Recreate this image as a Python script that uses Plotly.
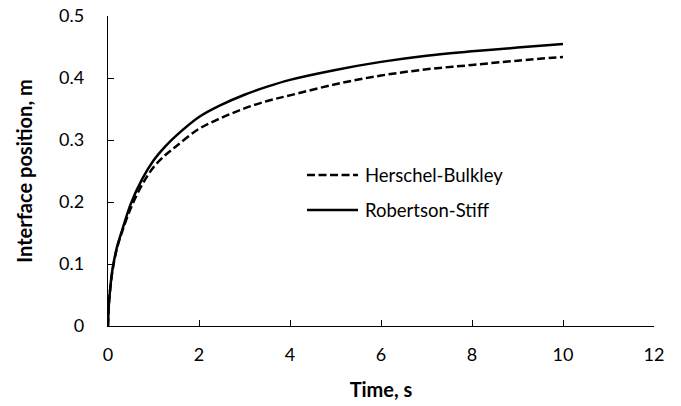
import plotly.graph_objects as go

# Data
time_hb = [0, 0.02, 0.05, 0.1, 0.2, 0.3, 0.5, 0.75, 1.0, 1.25, 1.5, 2.0, 2.5, 3.0, 3.5, 4.0, 5.0, 6.0, 7.0, 8.0, 9.0, 10.0]
pos_hb = [0, 0.035, 0.06, 0.09, 0.126, 0.15, 0.19, 0.228, 0.256, 0.275, 0.29, 0.318, 0.336, 0.351, 0.363, 0.372, 0.39, 0.404, 0.414, 0.421, 0.428, 0.434]

time_rs = [0, 0.02, 0.05, 0.1, 0.2, 0.3, 0.5, 0.75, 1.0, 1.25, 1.5, 2.0, 2.5, 3.0, 3.5, 4.0, 5.0, 6.0, 7.0, 8.0, 9.0, 10.0]
pos_rs = [0, 0.036, 0.062, 0.092, 0.128, 0.152, 0.197, 0.237, 0.267, 0.289, 0.307, 0.337, 0.357, 0.373, 0.386, 0.397, 0.413, 0.426, 0.436, 0.443, 0.449, 0.455]

series_names = ["Herschel-Bulkley", "Robertson-Stiff"]

x_ticks = [0, 2, 4, 6, 8, 10, 12]
y_ticks = [0, 0.1, 0.2, 0.3, 0.4, 0.5]
y_tick_labels = ["0", "0.1", "0.2", "0.3", "0.4", "0.5"]

FONT = "Lato, 'Open Sans', sans-serif"
DASH = "8px,3.5px"

fig = go.Figure()
fig.add_trace(go.Scatter(
    x=time_hb, y=pos_hb, mode="lines", name=series_names[0],
    line=dict(color="black", width=2.5, dash=DASH, shape="spline"),
    showlegend=False,
))
fig.add_trace(go.Scatter(
    x=time_rs, y=pos_rs, mode="lines", name=series_names[1],
    line=dict(color="black", width=2.5, shape="spline"),
    showlegend=False,
))

# Legend drawn by hand (long line samples, as in the reference)
legend_rows = [(0.487, DASH), (0.374, "solid")]
for (ly, dash), name in zip(legend_rows, series_names):
    fig.add_shape(type="line", xref="paper", yref="paper",
                  x0=0.3645, x1=0.4579, y0=ly, y1=ly,
                  line=dict(color="black", width=2.5, dash=dash))
    fig.add_annotation(xref="paper", yref="paper", x=0.467, y=ly,
                       xanchor="left", yanchor="middle", showarrow=False,
                       text=name, font=dict(size=18.5, color="black"))

fig.update_layout(
    width=681, height=406,
    margin=dict(l=108, r=27, t=16, b=80),
    paper_bgcolor="white", plot_bgcolor="white",
    font=dict(family=FONT, size=18, color="black"),
    showlegend=False,
)
fig.update_xaxes(
    range=[0, 12], tickvals=x_ticks, ticktext=[str(v) for v in x_ticks],
    showgrid=False, zeroline=False, showline=True, linecolor="black", linewidth=1.3,
    ticks="inside", ticklen=6, tickwidth=1.3, tickcolor="black",
    ticklabelstandoff=12, automargin=False, ticklabeloverflow="allow",
    title=dict(text="<b>Time, s</b>", font=dict(size=20), standoff=19),
)
fig.update_yaxes(
    range=[0, 0.5], tickvals=y_ticks, ticktext=y_tick_labels,
    showgrid=False, zeroline=False, showline=True, linecolor="black", linewidth=1.3,
    ticks="inside", ticklen=6, tickwidth=1.3, tickcolor="black",
    ticklabelstandoff=19, automargin=False, ticklabeloverflow="allow",
    title=dict(text="<b>Interface position, m</b>", font=dict(size=20), standoff=21),
)

# remove the page's default body margin so the figure fills the window exactly
fig.write_html("out.html", config={"displayModeBar": False},
               post_script="document.body.style.margin='0';")
